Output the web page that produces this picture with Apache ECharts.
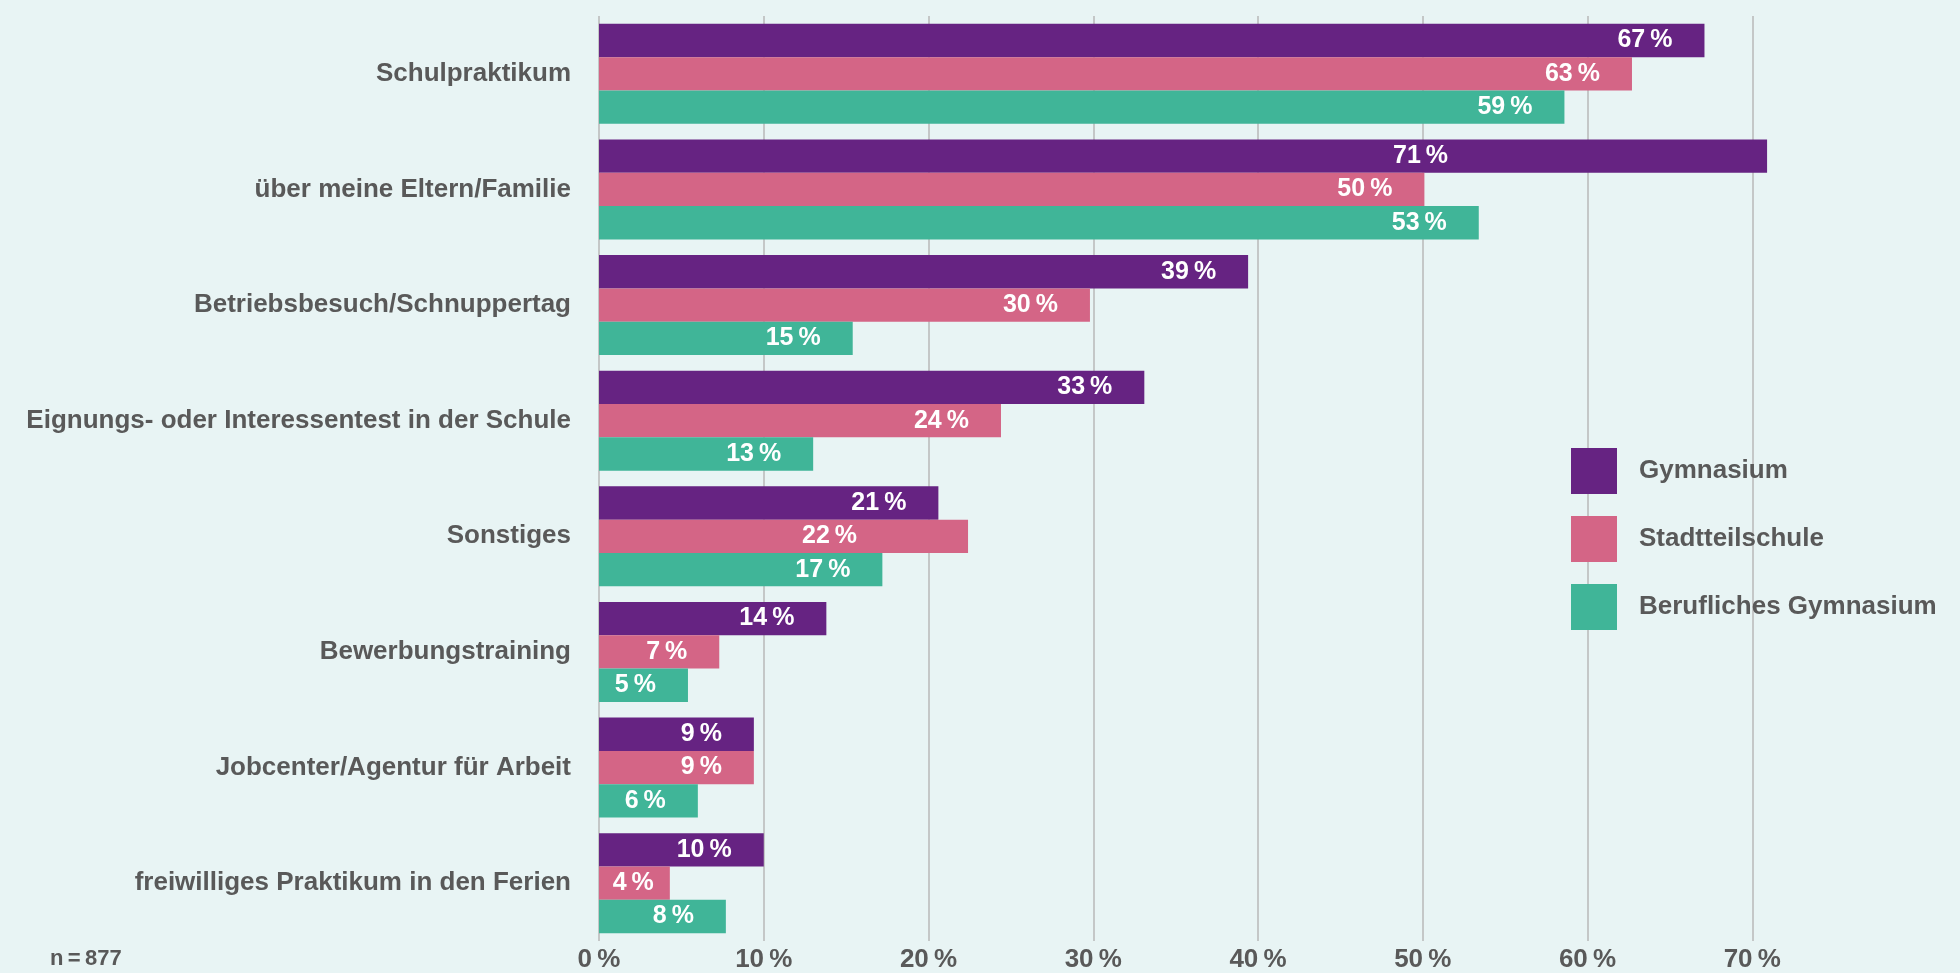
<!DOCTYPE html>
<html>
<head>
<meta charset="utf-8">
<script src="https://cdn.jsdelivr.net/npm/echarts@6/dist/echarts.min.js"></script>
<style>
    html, body { margin: 0; padding: 0; background: #e8f4f4; }
    #chart { width: 1960px; height: 973px; }
</style>
</head>
<body>
<div id="chart"></div>
<script>
// categories, top to bottom
const categories = [
    'Schulpraktikum',
    'über meine Eltern/Familie',
    'Betriebsbesuch/Schnuppertag',
    'Eignungs- oder Interessentest in der Schule',
    'Sonstiges',
    'Bewerbungstraining',
    'Jobcenter/Agentur für Arbeit',
    'freiwilliges Praktikum in den Ferien'
]
const seriesNames = ['Gymnasium', 'Stadtteilschule', 'Berufliches Gymnasium']
const gymnasium = [67.1, 70.9, 39.4, 33.1, 20.6, 13.8, 9.4, 10.0]
const stadtteilschule = [62.7, 50.1, 29.8, 24.4, 22.4, 7.3, 9.4, 4.3]
const beruflichesGym = [58.6, 53.4, 15.4, 13.0, 17.2, 5.4, 6.0, 7.7]
const xTicks = [0, 10, 20, 30, 40, 50, 60, 70]

const colors = ['#662382', '#d46586', '#40b598']
const grey = '#595959'
const narrow = '"Liberation Sans Narrow", "Arial Narrow", "Liberation Sans", Arial, sans-serif'
const sans = '"Liberation Sans", Arial, sans-serif'

// labels that sit away from the usual spot (px from bar end to label's right edge)
const labelDist = { '0-1': 319, '1-4': 111, '1-7': 16 }

const seriesData = [gymnasium, stadtteilschule, beruflichesGym]
const series = seriesData.map((arr, s) => ({
    name: seriesNames[s],
    type: 'bar',
    barGap: '0%',
    barCategoryGap: '13.5%',
    itemStyle: { color: colors[s] },
    data: arr.map((v, i) => {
        const item = { value: v }
        const d = labelDist[s + '-' + i]
        if (d) item.label = { distance: d }
        return item
    }),
    label: {
        show: true,
        position: 'insideRight',
        distance: 32,
        color: '#fff',
        fontFamily: sans,
        fontWeight: 'bold',
        fontSize: 25,
        formatter: p => Math.round(p.value) + '\u2009%'
    }
}))

const chart = echarts.init(document.getElementById('chart'))
chart.setOption({
    backgroundColor: '#e8f4f4',
    animation: false,
    color: colors,
    grid: { left: 599, right: 43, top: 16, bottom: 32, containLabel: false },
    xAxis: {
        type: 'value',
        min: 0,
        max: 80,
        interval: 10,
        axisLine: { show: false },
        axisTick: { show: false },
        splitLine: {
            show: true,
            lineStyle: {
                // last line (80) hidden
                color: xTicks.map(() => '#b8b8b8').concat(['transparent']),
                width: 1.5
            }
        },
        axisLabel: {
            margin: 6,
            color: grey,
            fontFamily: narrow,
            fontWeight: 'bold',
            fontSize: 26,
            formatter: v => xTicks.includes(v) ? v + '\u2009%' : ''
        }
    },
    yAxis: {
        type: 'category',
        inverse: true,
        data: categories,
        axisLine: { show: false },
        axisTick: { show: false },
        axisLabel: {
            margin: 28,
            color: grey,
            fontFamily: sans,
            fontWeight: 'bold',
            fontSize: 26
        }
    },
    legend: {
        orient: 'vertical',
        left: 1566,
        top: 443,
        itemWidth: 46,
        itemHeight: 46,
        itemGap: 22,
        icon: 'rect',
        data: seriesNames,
        textStyle: {
            color: grey,
            fontFamily: sans,
            fontWeight: 'bold',
            fontSize: 26,
            padding: [0, 0, 0, 17]
        }
    },
    graphic: [{
        type: 'text',
        left: 50,
        top: 948,
        style: {
            text: 'n\u2009=\u2009877',
            fill: grey,
            font: 'bold 22px ' + narrow
        }
    }],
    series
})
</script>
</body>
</html>
